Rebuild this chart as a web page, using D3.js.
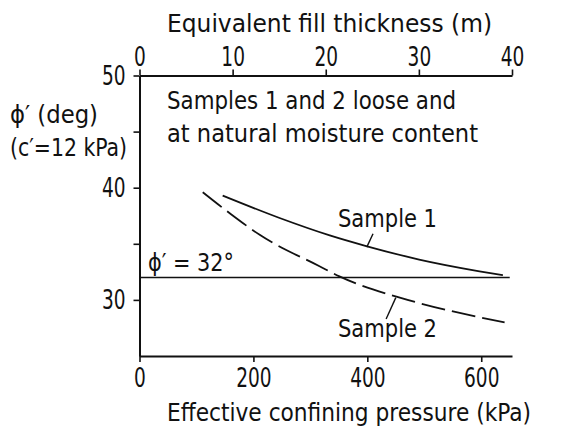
<!DOCTYPE html>
<html lang="en">
<head>
<meta charset="UTF-8" />
<title>Friction angle vs confining pressure</title>
<script src="https://d3js.org/d3.v7.min.js"></script>
<style>
  body { margin: 0; background: #fff; }
  svg { display: block; font-family: 'DejaVu Sans Condensed', 'Liberation Sans Narrow', sans-serif; }
  text { fill: #111; }
</style>
</head>
<body>
<div id="chart"></div>
<script>
  // values
  const sample1Pressure = [146, 246, 334, 398, 491, 597, 638];
  const sample1Phi      = [39.3, 37.3, 35.75, 34.8, 33.6, 32.55, 32.2];
  const sample2Pressure = [111, 159, 211, 316, 351, 457, 492, 597, 641];
  const sample2Phi      = [39.6, 37.7, 35.8, 33.0, 32.1, 30.2, 29.7, 28.45, 28.0];
  const phiLine = 32;
  const pressureTicks = [0, 200, 400, 600];
  const thicknessTicks = [0, 10, 20, 30, 40];
  const phiTicks = [30, 35, 40, 45, 50];
  const phiLabels = [30, 40, 50];

  const width = 562, height = 427;
  const margin = { top: 75.5, right: 50, bottom: 71, left: 139.5 };

  const x = d3.scaleLinear().domain([0, 654]).range([margin.left, width - margin.right]);
  const xTop = d3.scaleLinear().domain([0, 40]).range([margin.left, width - margin.right]);
  const y = d3.scaleLinear().domain([25, 50]).range([height - margin.bottom, margin.top]);

  const svg = d3.select("#chart").append("svg")
    .attr("width", width)
    .attr("height", height);

  const fs = 24.5;

  // bottom axis
  svg.append("g")
    .attr("transform", `translate(0,${y(25)})`)
    .call(d3.axisBottom(x).tickValues(pressureTicks).tickSize(6).tickPadding(6).tickSizeOuter(0));

  // top axis
  svg.append("g")
    .attr("transform", `translate(0,${y(50)})`)
    .call(d3.axisTop(xTop).tickValues(thicknessTicks).tickSize(6).tickPadding(4).tickSizeOuter(0));

  // left axis
  svg.append("g")
    .attr("transform", `translate(${margin.left},0)`)
    .call(d3.axisLeft(y).tickValues(phiTicks).tickSize(6).tickPadding(8).tickSizeOuter(0)
      .tickFormat(d => phiLabels.includes(d) ? d : ""));

  svg.selectAll("g").attr("font-size", null).attr("font-family", null);
  svg.selectAll(".domain").attr("stroke", "#111").attr("stroke-width", 2);
  svg.selectAll(".tick line").attr("stroke", "#111").attr("stroke-width", 1.6);
  svg.selectAll(".tick text")
    .attr("fill", "#111")
    .style("font-size", "27px")
    .each(function () {
      const n = this.textContent.length;
      if (n) d3.select(this).attr("textLength", n * 11.8).attr("lengthAdjust", "spacingAndGlyphs");
    });

  // horizontal reference at phi' = 32
  svg.append("line")
    .attr("x1", x(0)).attr("x2", x(650))
    .attr("y1", y(phiLine)).attr("y2", y(phiLine))
    .attr("stroke", "#111").attr("stroke-width", 1.6);

  const line = d3.line().x(d => x(d[0])).y(d => y(d[1])).curve(d3.curveMonotoneX);

  svg.append("path")
    .datum(d3.zip(sample1Pressure, sample1Phi))
    .attr("d", line)
    .attr("fill", "none").attr("stroke", "#111").attr("stroke-width", 1.8);

  svg.append("path")
    .datum(d3.zip(sample2Pressure, sample2Phi))
    .attr("d", line)
    .attr("fill", "none").attr("stroke", "#111").attr("stroke-width", 1.8)
    .attr("stroke-dasharray", "24,7");

  // leaders for labels
  svg.append("line")
    .attr("x1", x(410)).attr("y1", y(35.9)).attr("x2", x(399)).attr("y2", y(34.7))
    .attr("stroke", "#111").attr("stroke-width", 1.4);
  svg.append("line")
    .attr("x1", x(450)).attr("y1", y(30.2)).attr("x2", x(433)).attr("y2", y(28.3))
    .attr("stroke", "#111").attr("stroke-width", 1.4);

  const label = (tx, ty, str, len) => {
    const t = svg.append("text").attr("x", tx).attr("y", ty).attr("font-size", fs).text(str);
    if (len) t.attr("textLength", len).attr("lengthAdjust", "spacingAndGlyphs");
    return t;
  };

  label(338, 227, "Sample 1", 99);
  label(338, 337, "Sample 2", 99);
  label(148, 271, "ϕ′ = 32°", 86);
  label(167, 109, "Samples 1 and 2 loose and", 289);
  label(167, 142, "at natural moisture content", 311);
  label(10, 123, "ϕ′ (deg)", 88);
  label(10, 156, "(c′=12 kPa)", 117);
  label(167, 32, "Equivalent fill thickness (m)", 325);
  label(167, 421, "Effective confining pressure (kPa)", 364);
</script>
</body>
</html>
